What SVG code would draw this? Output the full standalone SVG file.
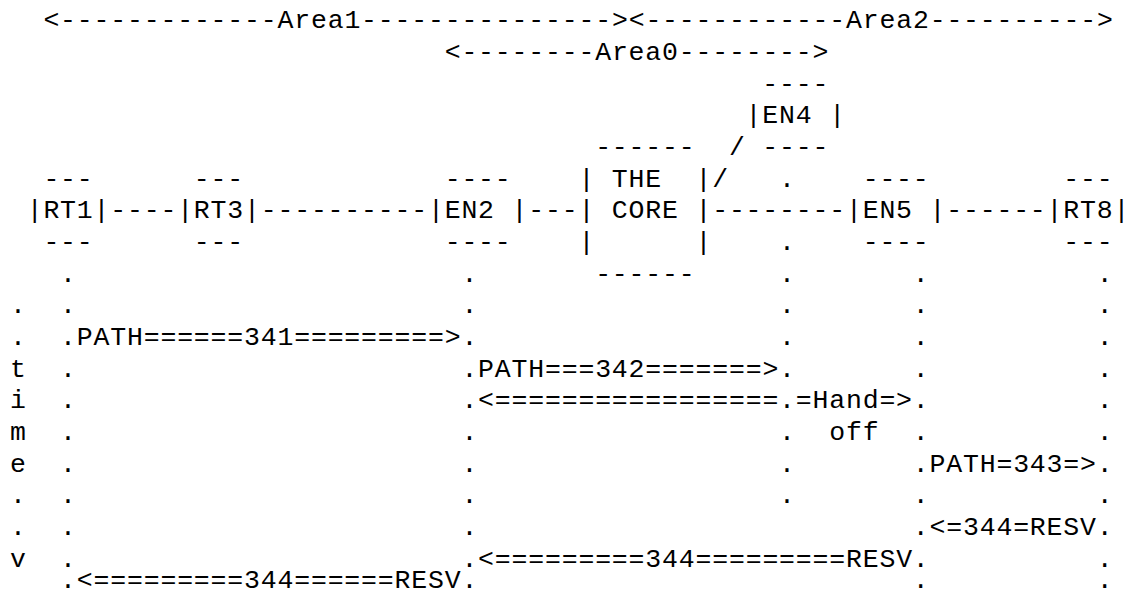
<svg xmlns="http://www.w3.org/2000/svg" width="1131" height="601" viewBox="0 0 1131 601" xml:space="preserve">
<style>
text { font-family: "Liberation Mono", "Courier New", monospace; font-size: 26.5px; letter-spacing: 0.82px; fill: #000; white-space: pre; }
</style>
<rect x="0" y="0" width="1131" height="601" fill="#fff"/>
<g id="areas">
<text x="43.38" y="28.3">&lt;-------------Area1---------------&gt;&lt;------------Area2----------&gt;</text>
<text x="444.66" y="60.0">&lt;--------Area0--------&gt;</text>
</g>
<g id="node-RT1">
<text x="43.38" y="186.7">---</text>
<text x="26.66" y="218.3">|RT1|</text>
<text x="43.38" y="250.0">---</text>
</g>
<g id="node-RT3">
<text x="193.86" y="186.7">---</text>
<text x="177.14" y="218.3">|RT3|</text>
<text x="193.86" y="250.0">---</text>
</g>
<g id="node-EN2">
<text x="444.66" y="186.7">----</text>
<text x="427.94" y="218.3">|EN2 |</text>
<text x="444.66" y="250.0">----</text>
</g>
<g id="node-core">
<text x="595.14" y="155.0">------</text>
<text x="578.42" y="186.7">| THE  |</text>
<text x="578.42" y="218.3">| CORE |</text>
<text x="578.42" y="250.0">|      |</text>
<text x="595.14" y="281.7">------</text>
</g>
<g id="node-EN4">
<text x="762.34" y="91.6">----</text>
<text x="745.62" y="123.3">|EN4 |</text>
<text x="762.34" y="155.0">----</text>
</g>
<g id="node-EN5">
<text x="862.66" y="186.7">----</text>
<text x="845.94" y="218.3">|EN5 |</text>
<text x="862.66" y="250.0">----</text>
</g>
<g id="node-RT8">
<text x="1063.30" y="186.7">---</text>
<text x="1046.58" y="218.3">|RT8|</text>
<text x="1063.30" y="250.0">---</text>
</g>
<g id="connectors">
<text x="110.26" y="218.3">----</text>
<text x="260.74" y="218.3">----------</text>
<text x="528.26" y="218.3">---</text>
<text x="712.18" y="218.3">--------</text>
<text x="946.26" y="218.3">------</text>
<text x="728.90" y="155.0">/</text>
<text x="712.18" y="186.7">/</text>
</g>
<g id="time-axis">
<text x="9.94 9.94 9.94 9.94 9.94 9.94 9.94 9.94 9.94" y="313.3 345.0 376.7 408.3 440.0 471.7 503.4 535.0 566.7">..time..v</text>
</g>
<g id="lifelines">
<text x="60.10 60.10 60.10 60.10 60.10 60.10 60.10 60.10 60.10 60.10 60.10" y="281.7 313.3 345.0 376.7 408.3 440.0 471.7 503.4 535.0 566.7 588">...........</text>
<text x="461.38 461.38 461.38 461.38 461.38 461.38 461.38 461.38 461.38 461.38 461.38" y="281.7 313.3 345.0 376.7 408.3 440.0 471.7 503.4 535.0 566.7 588">...........</text>
<text x="779.06" y="186.7">.</text>
<text x="779.06 779.06 779.06 779.06 779.06 779.06 779.06 779.06 779.06" y="250.0 281.7 313.3 345.0 376.7 408.3 440.0 471.7 503.4">.........</text>
<text x="912.82 912.82 912.82 912.82 912.82 912.82 912.82 912.82 912.82 912.82 912.82" y="281.7 313.3 345.0 376.7 408.3 440.0 471.7 503.4 535.0 566.7 588">...........</text>
<text x="1096.74 1096.74 1096.74 1096.74 1096.74 1096.74 1096.74 1096.74 1096.74 1096.74 1096.74" y="281.7 313.3 345.0 376.7 408.3 440.0 471.7 503.4 535.0 566.7 588">...........</text>
</g>
<g id="messages">
<text x="76.82" y="345.0">PATH======341=========&gt;</text>
<text x="478.10" y="376.7">PATH===342=======&gt;</text>
<text x="478.10" y="408.3">&lt;=================</text>
<text x="795.78" y="408.3">=Hand=&gt;</text>
<text x="829.22" y="440.0">off</text>
<text x="929.54" y="471.7">PATH=343=&gt;</text>
<text x="929.54" y="535.0">&lt;=344=RESV</text>
<text x="478.10" y="566.7">&lt;=========344=========RESV</text>
<text x="76.82" y="588">&lt;=========344======RESV</text>
</g>
</svg>
